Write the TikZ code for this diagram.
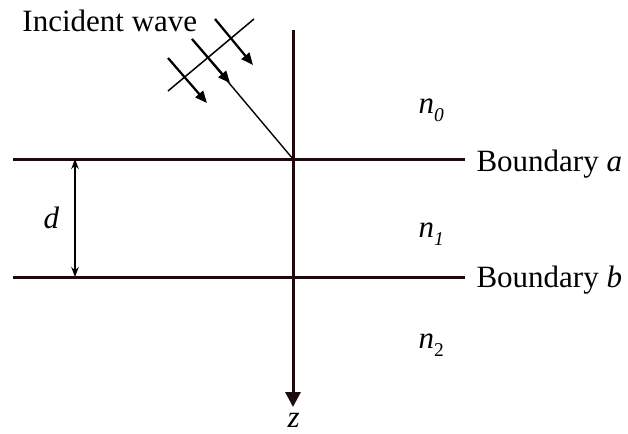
\documentclass[tikz,border=0pt]{standalone}
\usepackage{fontspec}
\setmainfont{Liberation Serif}
\usetikzlibrary{arrows.meta}
\definecolor{ink}{HTML}{1E0A0A}
\newcommand{\subidx}[1]{\raisebox{-3.2pt}{\fontsize{7.8}{9}\selectfont #1}}

\begin{document}
\begin{tikzpicture}[x=0.4pt,y=-0.4pt,font=\fontsize{12.4}{15}\selectfont,
  layer/.style={ink,line width=1.2pt},
  ray/.style={line width=0.55pt},
  wave/.style={line width=0.9pt,-{Triangle[length=4.8pt,width=4pt]}},
  lbl/.style={anchor=base west,inner sep=0pt}]
  \useasboundingbox (0,0) rectangle (628,434);
  % points
  \coordinate (O) at (293,159);
  \coordinate (aL) at (13,159);
  \coordinate (aR) at (465,159);
  \coordinate (bL) at (13,277);
  \coordinate (bR) at (465,277);
  \coordinate (ztop) at (293,30);
  \coordinate (zend) at (293,407);
  \coordinate (dtop) at (75,159);
  \coordinate (dbot) at (75,277);
  % layers and axis
  \draw[layer] (aL) -- (aR);
  \draw[layer] (bL) -- (bR);
  \draw[layer,-{Triangle[length=6pt,width=6pt]}] (ztop) -- (zend);
  \draw[line width=0.6pt,{Stealth[length=4pt,width=3pt]}-{Stealth[length=4pt,width=3pt]}] (dtop) -- (dbot);
  % incident wave
  \coordinate (r0) at (192,39);
  \coordinate (r1) at (230,83);
  \coordinate (l0) at (168,58);
  \coordinate (l1) at (207,103);
  \coordinate (s0) at (215,19);
  \coordinate (s1) at (253,65);
  \coordinate (f0) at (168,91);
  \coordinate (f1) at (254,19);
  \draw[ray] (r0) -- (O);
  \draw[wave] (r0) -- (r1);
  \draw[wave] (l0) -- (l1);
  \draw[wave] (s0) -- (s1);
  \draw[line width=0.6pt] (f0) -- (f1);
  % labels
  \node[lbl] (inc) at (22,31) {Incident wave};
  \node[lbl] (bdA) at (476,171) {Boundary \textit{a}};
  \node[lbl] (bdB) at (476,287) {Boundary \textit{b}};
  \node[lbl] (n0) at (418,113) {\textit{n}\subidx{\textit{0}}};
  \node[lbl] (n1) at (418,237) {\textit{n}\subidx{\textit{1}}};
  \node[lbl] (n2) at (418,348) {\textit{n}\subidx{2}};
  \node[lbl] (dd) at (43,228) {\textit{d}};
  \node[lbl] (zz) at (287,427) {\textit{z}};
\end{tikzpicture}
\end{document}
